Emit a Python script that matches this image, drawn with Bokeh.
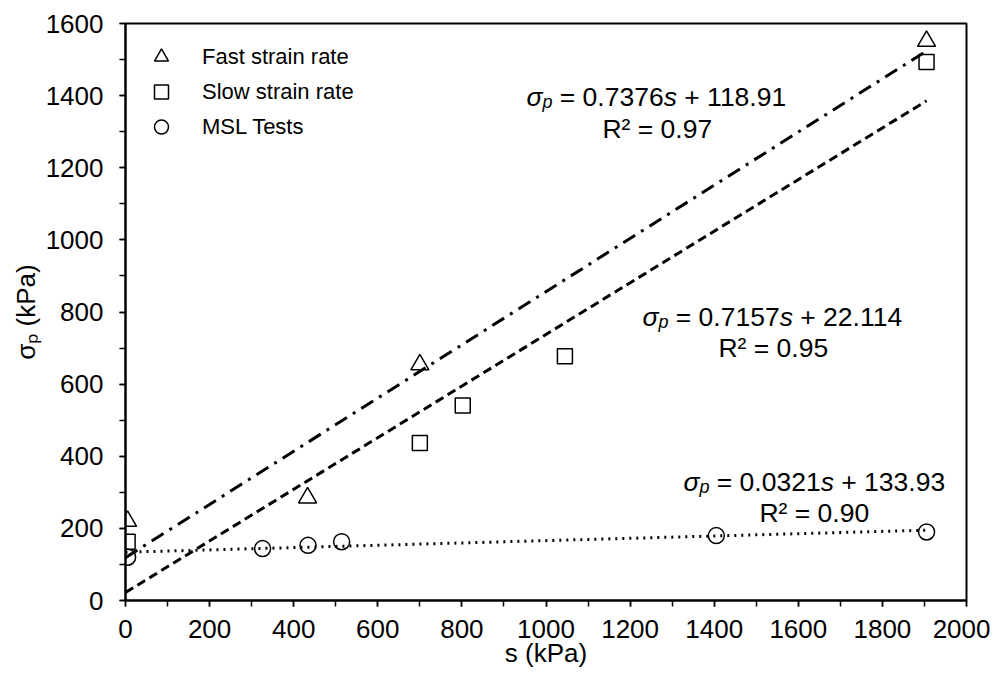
import math
from bokeh.plotting import figure
from bokeh.models import Range1d, SingleIntervalTicker, Label
from bokeh.embed import file_html
from bokeh.resources import INLINE

# ---------------- data ----------------
fast_s = [5, 433, 700, 1905]
fast_sigma = [220, 285, 654, 1551]
slow_s = [5, 700, 802, 1045, 1905]
slow_sigma = [163, 437, 541, 677, 1493]
msl_s = [5, 326, 434, 514, 1405, 1905]
msl_sigma = [120, 144, 153, 163, 180, 190]

series_names = ["Fast strain rate", "Slow strain rate", "MSL Tests"]
fit_slope = [0.7376, 0.7157, 0.0321]
fit_icpt = [118.91, 22.114, 133.93]
fit_r2 = [0.97, 0.95, 0.90]
fit_xrange = [0, 1905]

x_ticks_interval = 200
y_ticks_interval = 200

# ---------------- layout helpers ----------------
OX, OY = 1, 1                        # observed page origin of the canvas
W, H = 990, 670
FL, FT, FR, FB = 126, 24, 967, 601   # target frame edges in page pixels


def px2x(px):
    return (px - FL) / ((FR - FL) / 2000.0)


def px2y(py):
    return (FB - py) / ((FB - FT) / 1600.0)


FONT = "Liberation Sans"
EM = {'0': .556, '1': .556, '2': .556, '3': .556, '4': .556, '5': .556, '6': .556,
      '7': .556, '8': .556, '9': .556, '.': .278, ' ': .278, '=': .584, '+': .584,
      's': .5, 'σ': .6, 'p': .556, 'R': .722, '²': .333, '(': .333, ')': .333,
      'k': .5, 'P': .667, 'a': .556}


def tw(t, size):
    return sum(EM.get(c, .55) for c in t) * size


p = figure(width=W, height=H, x_range=Range1d(0, 2000), y_range=Range1d(0, 1600),
           output_backend="svg", toolbar_location=None,
           min_border_left=FL - OX, min_border_top=FT - OY,
           min_border_right=W + OX - FR, min_border_bottom=H + OY - FB)

p.xgrid.grid_line_color = None
p.ygrid.grid_line_color = None
p.outline_line_color = "black"
p.outline_line_width = 2
p.background_fill_color = "white"
p.border_fill_color = "white"

p.xaxis.ticker = SingleIntervalTicker(interval=x_ticks_interval, num_minor_ticks=2)
p.yaxis.ticker = SingleIntervalTicker(interval=y_ticks_interval, num_minor_ticks=2)
for ax in (p.xaxis, p.yaxis):
    ax.axis_line_width = 2
    ax.axis_line_color = "black"
    ax.major_tick_in = 0
    ax.major_tick_out = 6
    ax.minor_tick_in = 0
    ax.minor_tick_out = 6
    ax.major_tick_line_width = 1.5
    ax.minor_tick_line_width = 1.5
    ax.major_tick_line_color = "black"
    ax.minor_tick_line_color = "black"
    ax.major_label_text_font = FONT
    ax.major_label_text_font_size = "26px"
    ax.major_label_text_color = "black"
    ax.axis_label_text_font = FONT
    ax.axis_label_text_font_size = "26px"
    ax.axis_label_text_font_style = "normal"
    ax.axis_label_text_color = "black"
p.xaxis.major_label_standoff = 13
p.yaxis.major_label_standoff = 16
p.xaxis.axis_label = "s (kPa)"
p.yaxis.axis_label = "σₚ (kPa)"
p.xaxis.axis_label_standoff = -3
p.yaxis.axis_label_standoff = 2

# ---------------- trend lines ----------------
dashes = ["14 7 3 7", "9 5", "2 5"]
widths = [3, 3, 3]
for m, b, d, w in zip(fit_slope, fit_icpt, dashes, widths):
    ys = [m * x + b for x in fit_xrange]
    p.line(fit_xrange, ys, line_color="black", line_width=w, line_dash=d)

# ---------------- markers ----------------
p.scatter(fast_s, fast_sigma, marker="triangle", size=18, fill_color=None,
          line_color="black", line_width=1.5, legend_label=series_names[0])
p.scatter(slow_s, slow_sigma, marker="square", size=15, fill_color=None,
          line_color="black", line_width=1.5, legend_label=series_names[1])
p.scatter(msl_s, msl_sigma, marker="circle", size=16, fill_color=None,
          line_color="black", line_width=1.5, legend_label=series_names[2])

lg = p.legend[0]
lg.location = (17, 456)
lg.border_line_color = None
lg.background_fill_alpha = 0
lg.padding = 0
lg.margin = 0
lg.spacing = 0
lg.glyph_width = 38
lg.glyph_height = 35
lg.label_height = 35
lg.label_standoff = 22
lg.label_text_font = FONT
lg.label_text_font_size = "22px"
lg.label_text_color = "black"

# ---------------- equations ----------------
ES = 26.5
SUB = 18
SP = tw(" ", ES)


def add_piece(x, y, text, xo, yo, size, style):
    p.add_layout(Label(x=x, y=y, text=text, x_offset=xo, y_offset=yo,
                       text_font=FONT, text_font_size=f"{size}px", text_font_style=style,
                       text_color="black", text_align="left",
                       text_baseline="alphabetic"))


eq_left_px = [527, 643, 684]
eq_base_px = [97, 317, 482]
eq_base2_px = [129, 348, 513]

for i in range(3):
    xl = px2x(eq_left_px[i])
    yb = px2y(eq_base_px[i])
    # (text, size, style, y shift, leading space before it)
    pieces = [("σ", ES, "italic", 0, 0),
              ("p", SUB, "italic", -5, 0),
              ("= " + f"{fit_slope[i]}", ES, "normal", 0, SP),
              ("s", ES, "italic", 0, 0),
              ("+ " + f"{fit_icpt[i]}", ES, "normal", 0, SP)]
    off = 0.0
    for t, sz, st, yo, lead in pieces:
        off += lead
        add_piece(xl, yb, t, off, yo, sz, st)
        off += tw(t, sz)
    total = off
    r2t = "R² = " + f"{fit_r2[i]:.2f}"
    p.add_layout(Label(x=xl, y=px2y(eq_base2_px[i]), text=r2t, x_offset=total / 2,
                       text_font=FONT, text_font_size=f"{ES}px", text_color="black",
                       text_align="center", text_baseline="alphabetic"))

open("out.html", "w").write(file_html(p, INLINE))
